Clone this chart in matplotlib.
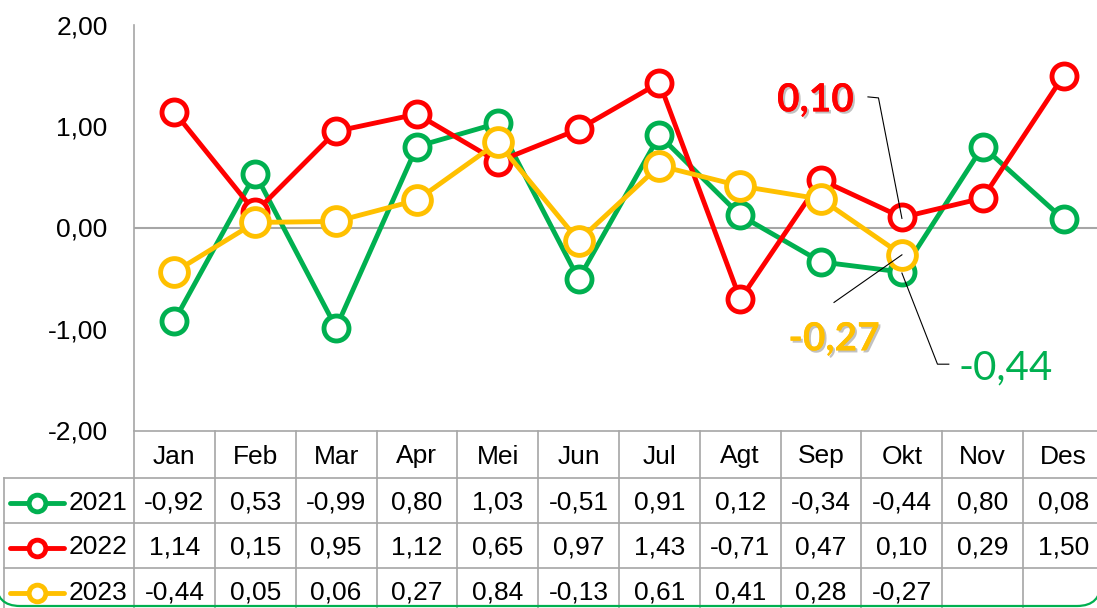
import matplotlib
matplotlib.use("Agg")
import matplotlib.pyplot as plt
from matplotlib.lines import Line2D
from matplotlib.patches import PathPatch
from matplotlib.path import Path
from matplotlib.transforms import blended_transform_factory, IdentityTransform
import matplotlib.patheffects as pe
from matplotlib import font_manager

# data
months = ['Jan', 'Feb', 'Mar', 'Apr', 'Mei', 'Jun', 'Jul', 'Agt', 'Sep', 'Okt', 'Nov', 'Des']
years = ['2021', '2022', '2023']
v2021 = [-0.92, 0.53, -0.99, 0.80, 1.03, -0.51, 0.91, 0.12, -0.34, -0.44, 0.80, 0.08]
v2022 = [1.14, 0.15, 0.95, 1.12, 0.65, 0.97, 1.43, -0.71, 0.47, 0.10, 0.29, 1.50]
v2023 = [-0.44, 0.05, 0.06, 0.27, 0.84, -0.13, 0.61, 0.41, 0.28, -0.27]
yticks = [-2, -1, 0, 1, 2]

GREEN, RED, ORANGE = '#00B050', '#FF0000', '#FFC000'
GRID = '#A6A6A6'

names = {f.name for f in font_manager.fontManager.ttflist}
narrow = 'Liberation Sans Narrow' if 'Liberation Sans Narrow' in names else 'Liberation Sans'
plt.rcParams['font.family'] = [narrow, 'DejaVu Sans']
FS = 19

W, H = 1097, 608
fig = plt.figure(figsize=(W / 100, H / 100), dpi=100)

def fx(px):
    return px / W

def fy(py):
    return 1 - py / H

# plot area in pixel terms
left, right, top, bottom = 134, 1104, 25, 430
ax = fig.add_axes([fx(left), fy(bottom), fx(right - left), (bottom - top) / H])
ax.set_xlim(-0.5, 11.5)
ax.set_ylim(-2, 2)
for s in ['top', 'right', 'bottom']:
    ax.spines[s].set_visible(False)
ax.spines['left'].set_color(GRID)
ax.spines['left'].set_linewidth(1.2)
ax.set_xticks([])
ax.set_yticks(yticks)
ax.set_yticklabels([f"{t:.2f}".replace('.', ',') for t in yticks], fontsize=FS)
ax.tick_params(axis='y', length=0, pad=19)
ax.axhline(0, color=GRID, lw=1.5, zorder=1)

series = [(v2021, GREEN, 18, 2), (v2022, RED, 18, 3), (v2023, ORANGE, 20, 4)]
for vals, col, ms, z in series:
    ax.plot(range(len(vals)), vals, color=col, lw=3.5, marker='o', ms=ms,
            mfc='white', mec=col, mew=3.5, zorder=z, clip_on=False)

# callouts for Okt
shadow = [pe.withSimplePatchShadow(offset=(1.5, -1.5), shadow_rgbFace='#999999', alpha=0.6), pe.Normal()]
ax.plot([8.58, 8.71, 9.0], [1.29, 1.28, 0.09], color='black', lw=0.8, zorder=6)
ax.plot([8.16, 9.0], [-0.74, -0.27], color='black', lw=0.8, zorder=6)
ax.plot([9.0, 9.44, 9.58], [-0.45, -1.35, -1.35], color='black', lw=0.8, zorder=6)
ax.text(7.93, 1.26, "0,10", color=RED, fontsize=28, fontweight='bold', family='Lato',
        ha='center', va='center', path_effects=shadow, zorder=7)
ax.text(8.16, -1.10, "-0,27", color=ORANGE, fontsize=28, fontweight='bold', family='Lato',
        ha='center', va='center', path_effects=shadow, zorder=7)
ax.text(9.70, -1.39, "-0,44", color=GREEN, fontsize=29, family='Lato',
        ha='left', va='center', zorder=7)

# data table below the plot
tr = blended_transform_factory(ax.transData, fig.transFigure)
rows_px = [431, 478, 523, 568, 613]
edges = [i - 0.5 for i in range(13)]
lab_left = -0.5 - 130 / 80.8

fig.add_artist(Line2D([fx(left), fx(right)], [fy(431)] * 2, transform=fig.transFigure, color=GRID, lw=1.2))
for r in rows_px[1:]:
    ax.add_line(Line2D([lab_left, 11.5], [fy(r)] * 2, transform=tr, color=GRID, lw=1.2, clip_on=False))
for e in edges:
    ax.add_line(Line2D([e, e], [fy(431), fy(613)], transform=tr, color=GRID, lw=1.2, clip_on=False))
ax.add_line(Line2D([lab_left, lab_left], [fy(478), fy(613)], transform=tr, color=GRID, lw=1.2, clip_on=False))

ymid = [(rows_px[i] + rows_px[i + 1]) / 2 + 2 for i in range(4)]
for i, m in enumerate(months):
    ax.text(i, fy(ymid[0]), m, transform=tr, ha='center', va='center', fontsize=FS, clip_on=False)

all_vals = [v2021, v2022, v2023]
cols = [GREEN, RED, ORANGE]
for r, (yr, vals, col) in enumerate(zip(years, all_vals, cols)):
    yy = fy(ymid[r + 1])
    for i, v in enumerate(vals):
        ax.text(i, yy, f"{v:.2f}".replace('.', ','), transform=tr, ha='center', va='center',
                fontsize=FS, clip_on=False)
    fig.add_artist(Line2D([fx(10), fx(64)], [yy, yy], transform=fig.transFigure, color=col, lw=3.5,
                          solid_capstyle='round'))
    fig.add_artist(Line2D([fx(37)], [yy], transform=fig.transFigure, color=col, marker='o', ms=12,
                          mfc='white', mec=col, mew=3.5))
    fig.text(fx(98), yy, yr, ha='center', va='center', fontsize=FS)

# bottom of the green rounded chart border, in pixels (origin bottom-left)
bx0, bx1, by, rad = -4, 1101, 2, 24
verts = [(bx0, by + rad + 20), (bx0, by + rad), (bx0, by), (bx0 + rad, by),
         (bx1 - rad, by), (bx1, by), (bx1, by + rad), (bx1, by + rad + 20)]
codes = [Path.MOVETO, Path.LINETO, Path.CURVE3, Path.CURVE3,
         Path.LINETO, Path.CURVE3, Path.CURVE3, Path.LINETO]
fig.add_artist(PathPatch(Path(verts, codes), transform=IdentityTransform(),
                         fc='none', ec=GREEN, lw=1.6))

fig.savefig('out.png', dpi=100)
